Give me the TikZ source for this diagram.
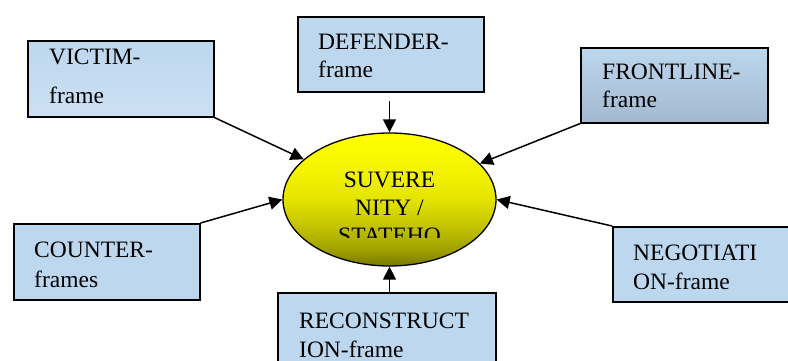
\documentclass[tikz,border=0pt]{standalone}
\usepackage{fontspec}
\setmainfont{Liberation Serif}
\usetikzlibrary{shapes.geometric,arrows.meta}
\definecolor{boxblue}{RGB}{189,215,238}
\definecolor{boxlight}{RGB}{204,224,242}
\definecolor{boxdark}{RGB}{163,185,207}
\definecolor{ellA}{RGB}{120,120,0}
\definecolor{ellB}{RGB}{160,160,0}
\definecolor{ellC}{RGB}{195,195,0}
\definecolor{ellD}{RGB}{228,228,0}
\definecolor{ellE}{RGB}{245,245,0}
\definecolor{ellF}{RGB}{255,255,0}
\pgfdeclareverticalshading{ellshade}{100bp}{color(0bp)=(ellA); color(25bp)=(ellA); color(31bp)=(ellB); color(40bp)=(ellC); color(50bp)=(ellD); color(62bp)=(ellE); color(75bp)=(ellF); color(100bp)=(ellF)}
\begin{document}
\begin{tikzpicture}[x=1pt,y=-1pt,
  framebox/.style={draw=black, line width=1.6pt, fill=boxblue, inner sep=0pt, anchor=north west},
  lbl/.style={anchor=base west, inner sep=0pt},
  arr/.style={line width=1.5pt, -{Triangle[length=13pt,width=13pt]}}]
\clip (0,0) rectangle (788,361);
\fill[white] (0,0) rectangle (788,361);
% boxes
\node[framebox, minimum width=186pt, minimum height=76pt, top color=boxblue, bottom color=boxlight] (victim) at (27,40) {};
\node[framebox, minimum width=186pt, minimum height=75pt] (defender) at (297,16) {};
\node[framebox, minimum width=187pt, minimum height=75pt, top color=boxblue, bottom color=boxdark] (front) at (580,47) {};
\node[framebox, minimum width=186pt, minimum height=76pt] (counter) at (13,223) {};
\node[framebox, minimum width=187pt, minimum height=75pt] (nego) at (612,226) {};
\node[framebox, minimum width=218pt, minimum height=75pt] (recon) at (277,292) {};
% labels
\node[lbl] (victimt) at (49,65) {\fontsize{23.5}{39}\selectfont\parbox[t]{300pt}{VICTIM-\\frame}};
\node[lbl] (defendert) at (318,50) {\fontsize{23.5}{28}\selectfont\parbox[t]{300pt}{DEFENDER-\\frame}};
\node[lbl] (frontt) at (602,80) {\fontsize{23.5}{28}\selectfont\parbox[t]{300pt}{FRONTLINE-\\frame}};
\node[lbl] (countert) at (34,257) {\fontsize{23.5}{30}\selectfont\parbox[t]{300pt}{COUNTER-\\frames}};
\node[lbl] (negot) at (633,260) {\fontsize{23.5}{29}\selectfont\parbox[t]{300pt}{NEGOTIATI\\ON-frame}};
\node[lbl] (recont) at (299,328) {\fontsize{23.5}{29}\selectfont\parbox[t]{300pt}{RECONSTRUCT\\ION-frame}};
% ellipse
\node[ellipse, draw=black, line width=1.3pt, minimum width=213pt, minimum height=133pt, inner sep=0pt,
  shading=ellshade] (ell) at (389.5,199.5) {};
\begin{scope}
\clip (280,140) rectangle (500,237);
\node[anchor=base, inner sep=0pt] (ellt) at (389.5,187) {\fontsize{23.5}{28}\selectfont\parbox[t]{200pt}{\centering SUVERE\\NITY /\\STATEHO}};
\end{scope}
% connectors
\coordinate (dtop) at (389.5,101);
\draw[arr] (dtop) -- (ell.north);
\draw[arr] (victim.south east) -- (ell);
\draw[arr] (front.south west) -- (ell);
\draw[arr] (counter.north east) -- (ell.west);
\draw[arr] (nego.north west) -- (ell.east);
\draw[arr] (ell.south |- recon.north) -- (ell.south);
\end{tikzpicture}
\end{document}
